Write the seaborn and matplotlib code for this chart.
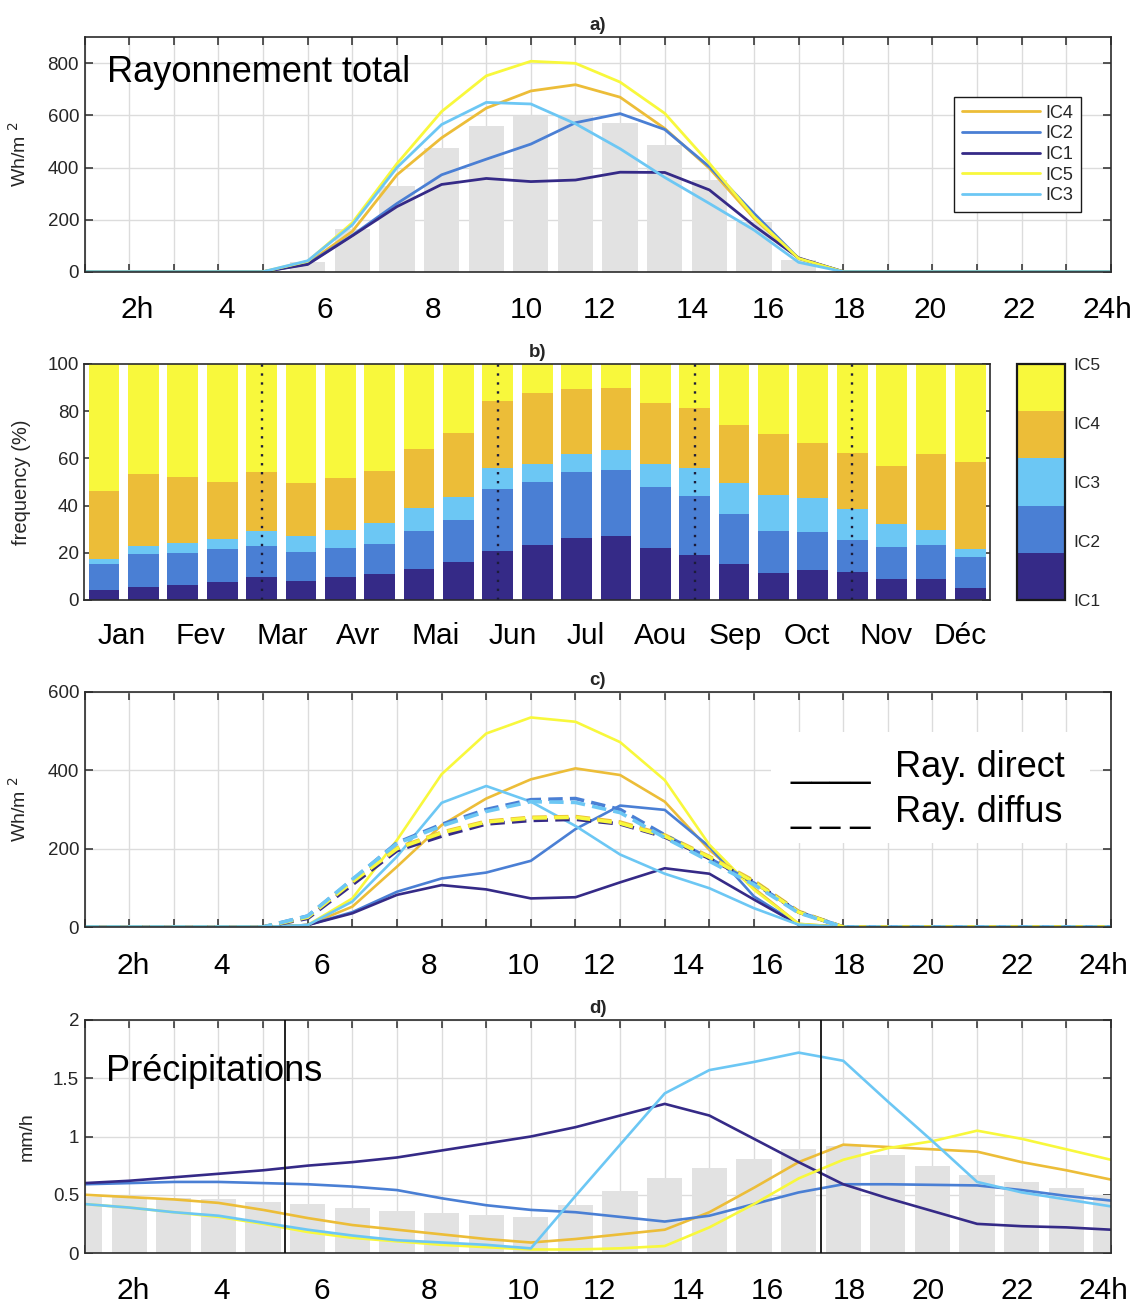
import numpy as np
import pandas as pd
import matplotlib
matplotlib.use("Agg")
import matplotlib.pyplot as plt
import matplotlib.transforms as mtransforms
from matplotlib.colors import ListedColormap, Normalize
from matplotlib.patches import Rectangle
import seaborn as sns

# ---------------- data ----------------
hours = list(range(1, 25))
hour_labels = ["2h", "4", "6", "8", "10", "12", "14", "16", "18", "20", "22", "24h"]
classes = ["IC4", "IC2", "IC1", "IC5", "IC3"]          # legend / drawing order
stack_classes = ["IC1", "IC2", "IC3", "IC4", "IC5"]
class_colors = {"IC1": "#352a87", "IC2": "#4a7fd4", "IC3": "#6cc7f4",
                "IC4": "#ecbd38", "IC5": "#f8f83c"}

# a) total radiation (Wh/m2), hours 1..24
a_mean = [0, 0, 0, 0, 0, 36, 165, 330, 475, 560, 597, 597, 570, 487, 352, 192, 45, 0, 0, 0, 0, 0, 0, 0]
a_IC1 = [0, 0, 0, 0, 0, 28, 138, 250, 335, 358, 346, 352, 382, 381, 314, 177, 53, 0, 0, 0, 0, 0, 0, 0]
a_IC2 = [0, 0, 0, 0, 0, 30, 140, 262, 372, 432, 490, 572, 607, 546, 403, 224, 51, 0, 0, 0, 0, 0, 0, 0]
a_IC3 = [0, 0, 0, 0, 0, 42, 180, 400, 565, 650, 644, 568, 472, 362, 262, 160, 36, 0, 0, 0, 0, 0, 0, 0]
a_IC4 = [0, 0, 0, 0, 0, 32, 155, 372, 514, 628, 694, 718, 670, 550, 397, 205, 51, 0, 0, 0, 0, 0, 0, 0]
a_IC5 = [0, 0, 0, 0, 0, 40, 188, 415, 615, 752, 808, 800, 728, 608, 416, 211, 51, 0, 0, 0, 0, 0, 0, 0]

# b) monthly frequency of each class (%), 23 periods
b_periods = list(range(1, 24))
month_labels = ["Jan", "Fev", "Mar", "Avr", "Mai", "Jun", "Jul", "Aou", "Sep", "Oct", "Nov", "Déc"]
b_IC1 = [4.2, 5.6, 6.5, 7.6, 9.9, 8.2, 9.7, 11.0, 13.3, 16.0, 20.9, 23.4, 26.3, 27.1, 21.9, 19.1, 15.3, 11.4, 12.9, 12.0, 9.0, 9.0, 5.2]
b_IC2 = [11.1, 14.0, 13.6, 13.9, 13.0, 12.3, 12.2, 12.9, 15.9, 17.9, 26.0, 26.5, 27.9, 28.0, 26.0, 25.0, 21.1, 17.7, 15.8, 13.4, 13.3, 14.4, 12.9]
b_IC3 = [2.1, 3.3, 4.2, 4.5, 6.3, 6.8, 7.8, 8.6, 9.6, 9.7, 9.2, 7.7, 7.8, 8.5, 9.9, 11.8, 13.3, 15.3, 14.4, 13.0, 9.8, 6.3, 3.4]
b_IC4 = [28.8, 30.6, 27.8, 24.1, 25.2, 22.4, 21.9, 22.2, 25.3, 27.3, 28.4, 30.0, 27.3, 26.4, 25.5, 25.3, 24.6, 25.8, 23.6, 23.7, 24.8, 32.0, 36.8]
b_IC5 = [53.8, 46.5, 47.9, 49.9, 45.6, 50.3, 48.4, 45.3, 35.9, 29.1, 15.5, 12.4, 10.7, 10.0, 16.7, 18.8, 25.7, 29.8, 33.3, 37.9, 43.1, 38.3, 41.7]
b_season_marks = [5, 11, 16, 20]

# c) direct (solid) and diffuse (dashed) radiation (Wh/m2)
c_dir_IC1 = [0, 0, 0, 0, 0, 5, 35, 82, 107, 96, 73, 76, 114, 150, 136, 70, 6, 0, 0, 0, 0, 0, 0, 0]
c_dir_IC2 = [0, 0, 0, 0, 0, 5, 38, 90, 124, 139, 169, 250, 310, 299, 205, 78, 6, 0, 0, 0, 0, 0, 0, 0]
c_dir_IC3 = [0, 0, 0, 0, 0, 5, 65, 180, 317, 360, 320, 258, 185, 136, 99, 48, 6, 0, 0, 0, 0, 0, 0, 0]
c_dir_IC4 = [0, 0, 0, 0, 0, 5, 52, 154, 260, 328, 377, 405, 388, 320, 197, 99, 8, 0, 0, 0, 0, 0, 0, 0]
c_dir_IC5 = [0, 0, 0, 0, 0, 5, 73, 222, 390, 494, 535, 524, 472, 375, 210, 95, 8, 0, 0, 0, 0, 0, 0, 0]
c_dif_IC1 = [0, 0, 0, 0, 0, 22, 108, 195, 232, 263, 272, 275, 263, 230, 175, 115, 38, 0, 0, 0, 0, 0, 0, 0]
c_dif_IC2 = [0, 0, 0, 0, 0, 28, 120, 215, 262, 300, 325, 328, 300, 235, 175, 112, 38, 0, 0, 0, 0, 0, 0, 0]
c_dif_IC3 = [0, 0, 0, 0, 0, 28, 122, 213, 258, 295, 320, 318, 292, 228, 168, 108, 36, 0, 0, 0, 0, 0, 0, 0]
c_dif_IC4 = [0, 0, 0, 0, 0, 25, 115, 202, 242, 270, 280, 282, 268, 235, 180, 118, 40, 0, 0, 0, 0, 0, 0, 0]
c_dif_IC5 = [0, 0, 0, 0, 0, 25, 115, 200, 240, 268, 278, 280, 265, 232, 178, 115, 38, 0, 0, 0, 0, 0, 0, 0]

# d) precipitation (mm/h)
d_mean = [0.48, 0.48, 0.47, 0.46, 0.44, 0.42, 0.39, 0.36, 0.34, 0.33, 0.31, 0.41, 0.53, 0.64, 0.73, 0.81, 0.89, 0.92, 0.84, 0.75, 0.67, 0.61, 0.56, 0.50]
d_IC1 = [0.60, 0.62, 0.65, 0.68, 0.71, 0.75, 0.78, 0.82, 0.88, 0.94, 1.00, 1.08, 1.18, 1.28, 1.18, 0.98, 0.78, 0.59, 0.47, 0.36, 0.25, 0.23, 0.22, 0.20]
d_IC2 = [0.59, 0.60, 0.61, 0.61, 0.60, 0.59, 0.57, 0.54, 0.47, 0.41, 0.37, 0.35, 0.31, 0.27, 0.32, 0.42, 0.52, 0.59, 0.59, 0.585, 0.58, 0.54, 0.49, 0.45]
d_IC3 = [0.42, 0.39, 0.35, 0.32, 0.26, 0.20, 0.15, 0.11, 0.09, 0.07, 0.04, 0.49, 0.93, 1.37, 1.57, 1.64, 1.72, 1.65, 1.30, 0.96, 0.61, 0.52, 0.46, 0.40]
d_IC4 = [0.50, 0.48, 0.46, 0.43, 0.37, 0.30, 0.24, 0.20, 0.16, 0.12, 0.09, 0.12, 0.16, 0.20, 0.35, 0.56, 0.78, 0.93, 0.91, 0.89, 0.87, 0.78, 0.71, 0.63]
d_IC5 = [0.42, 0.39, 0.35, 0.31, 0.25, 0.18, 0.13, 0.10, 0.07, 0.05, 0.03, 0.03, 0.04, 0.06, 0.22, 0.42, 0.64, 0.80, 0.90, 0.96, 1.05, 0.98, 0.89, 0.80]
d_day_marks = [5.5, 17.5]

# ---------------- layout (positions in px of the 1141x1309 image) ----------------
hour_label_pos_a = [2.17, 4.19, 6.39, 8.80, 10.89, 12.53, 14.61, 16.32, 18.13, 19.94, 21.94, 23.93]
hour_label_pos_cd = [2.09, 4.08, 6.31, 8.72, 10.84, 12.53, 14.52, 16.31, 18.13, 19.90, 21.89, 23.84]
month_label_pos = [1.46, 3.44, 5.52, 7.46, 9.43, 11.39, 13.24, 15.14, 17.02, 18.84, 20.86, 22.74]

sns.set_theme(style="ticks")
plt.rcParams["font.family"] = ["Liberation Sans", "DejaVu Sans"]
plt.rcParams["axes.unicode_minus"] = False

W, H = 1141, 1309
fig = plt.figure(figsize=(W / 100, H / 100), dpi=100)


def rect(l, t, r, b):
    return [l / W, 1 - b / H, (r - l) / W, (b - t) / H]


ax_a = fig.add_axes(rect(84.6, 37.3, 1111, 271.7))
ax_b = fig.add_axes(rect(84.4, 364, 990, 600))
ax_c = fig.add_axes(rect(84.6, 692, 1111, 927))
ax_d = fig.add_axes(rect(84.6, 1020, 1111, 1253))
cax = fig.add_axes(rect(1017, 364, 1065, 600))

GRID = "#dcdcdc"
SPINE = "#2b2b2b"
BAR_GRAY = "#e2e2e2"
TICK_FS = 13.5


def long_df(series):
    rows = []
    for name, vals in series.items():
        for h, v in zip(hours, vals):
            rows.append({"hour": h, "value": v, "classe": name})
    return pd.DataFrame(rows)


def style_hour_axes(ax, ymax, yticks, yticklabels, ylabel, label_x, label_pos, title):
    ax.set_xlim(1, 24)
    ax.set_ylim(0, ymax)
    ax.set_xticks(hours)
    ax.set_yticks(yticks)
    ax.set_yticklabels(yticklabels)
    ax.grid(True, color=GRID, lw=1)
    ax.set_axisbelow(True)
    ax.tick_params(axis="both", direction="in", length=6, width=1.1, top=True, right=True,
                   labelbottom=False, labelsize=TICK_FS, color=SPINE, labelcolor="#262626", pad=4)
    for s in ax.spines.values():
        s.set_visible(True)
        s.set_color(SPINE)
        s.set_linewidth(1.2)
    ax.set_xlabel("")
    ax.set_ylabel(ylabel, fontsize=14, color="#262626")
    ax.yaxis.set_label_coords(label_x, 0.5)
    ax.set_title(title, fontsize=13.5, fontweight="bold", pad=5)
    trans = mtransforms.blended_transform_factory(ax.transData, ax.transAxes)
    for p, lab in zip(label_pos, hour_labels):
        ax.text(p, -0.198, lab, transform=trans, ha="center", va="baseline",
                fontsize=21.5, color="black", clip_on=False)


# ---------------- a) ----------------
sns.barplot(x=hours, y=a_mean, native_scale=True, width=0.79, color=BAR_GRAY,
            saturation=1, errorbar=None, linewidth=0, ax=ax_a)
df_a = long_df({"IC1": a_IC1, "IC2": a_IC2, "IC3": a_IC3, "IC4": a_IC4, "IC5": a_IC5})
sns.lineplot(data=df_a, x="hour", y="value", hue="classe", hue_order=classes,
             palette=class_colors, lw=2.0, errorbar=None, legend=False, ax=ax_a)
style_hour_axes(ax_a, 900, [0, 200, 400, 600, 800], ["0", "200", "400", "600", "800"],
                "Wh/m $^{2}$", -0.053, hour_label_pos_a, "a)")
leg = ax_a.legend(ax_a.get_lines()[-5:], classes, loc="center right",
                  bbox_to_anchor=(0.98, 0.5), fontsize=13, handlelength=4.3,
                  handletextpad=0.3, labelspacing=0.2, borderpad=0.45,
                  frameon=True, fancybox=False, framealpha=1, edgecolor="#1a1a1a")
leg.get_frame().set_linewidth(1.0)

# ---------------- b) ----------------
b_stack = np.array([b_IC1, b_IC2, b_IC3, b_IC4, b_IC5])
b_cum = np.cumsum(b_stack, axis=0)
for i in range(4, -1, -1):
    sns.barplot(x=b_periods, y=b_cum[i], native_scale=True, width=0.78,
                color=class_colors[stack_classes[i]], saturation=1, errorbar=None,
                linewidth=0, ax=ax_b)
for xm in b_season_marks:
    ax_b.axvline(xm, color="#1c1c3a", lw=1.7, ls=(0, (1, 2.8)), zorder=3)
ax_b.set_xlim(0.5, 23.5)
ax_b.set_ylim(0, 100)
ax_b.set_xticks(b_periods)
ax_b.set_yticks([0, 20, 40, 60, 80, 100])
ax_b.grid(False)
ax_b.tick_params(axis="both", direction="in", length=6, width=1.1, top=True, right=True,
                 labelbottom=False, labelsize=TICK_FS, color=SPINE, labelcolor="#262626", pad=4)
for s in ax_b.spines.values():
    s.set_visible(True)
    s.set_color(SPINE)
    s.set_linewidth(1.2)
ax_b.set_xlabel("")
ax_b.set_ylabel("frequency (%)", fontsize=14.5, color="#262626")
ax_b.yaxis.set_label_coords(-0.059, 0.5)
ax_b.set_title("b)", fontsize=13.5, fontweight="bold", pad=5)
trans_b = mtransforms.blended_transform_factory(ax_b.transData, ax_b.transAxes)
for p, lab in zip(month_label_pos, month_labels):
    ax_b.text(p, -0.186, lab, transform=trans_b, ha="center", va="baseline",
              fontsize=21.5, color="black", clip_on=False)

cmap = ListedColormap([class_colors[c] for c in stack_classes])
cb = fig.colorbar(plt.cm.ScalarMappable(norm=Normalize(1, 5), cmap=cmap), cax=cax,
                  ticks=[1, 2, 3, 4, 5])
cb.set_ticklabels(stack_classes)
cax.tick_params(length=0, labelsize=12.5, pad=6, labelcolor="#262626")
cb.outline.set_linewidth(1.6)
cb.outline.set_edgecolor("#1a1a1a")

# ---------------- c) ----------------
df_c_dir = long_df({"IC1": c_dir_IC1, "IC2": c_dir_IC2, "IC3": c_dir_IC3, "IC4": c_dir_IC4, "IC5": c_dir_IC5})
df_c_dif = long_df({"IC1": c_dif_IC1, "IC2": c_dif_IC2, "IC3": c_dif_IC3, "IC4": c_dif_IC4, "IC5": c_dif_IC5})
sns.lineplot(data=df_c_dir, x="hour", y="value", hue="classe", hue_order=classes,
             palette=class_colors, lw=1.9, errorbar=None, legend=False, ax=ax_c)
sns.lineplot(data=df_c_dif, x="hour", y="value", hue="classe", hue_order=classes,
             palette=class_colors, lw=2.6, linestyle=(0, (4, 2)), errorbar=None,
             legend=False, ax=ax_c)
style_hour_axes(ax_c, 600, [0, 200, 400, 600], ["0", "200", "400", "600"],
                "Wh/m $^{2}$", -0.053, hour_label_pos_cd, "c)")
ax_c.add_patch(Rectangle((0.669, 0.357), 0.311, 0.473, transform=ax_c.transAxes,
                         facecolor="white", edgecolor="none", zorder=1.5))
fig.text(790 / W, 1 - 777 / H, "____", fontsize=26, color="black", va="baseline")
fig.text(790 / W, 1 - 822 / H, "_ _ _", fontsize=26, color="black", va="baseline")
fig.text(895 / W, 1 - 777 / H, "Ray. direct", fontsize=26, color="black", va="baseline")
fig.text(895 / W, 1 - 822 / H, "Ray. diffus", fontsize=26, color="black", va="baseline")

# ---------------- d) ----------------
sns.barplot(x=hours, y=d_mean, native_scale=True, width=0.79, color=BAR_GRAY,
            saturation=1, errorbar=None, linewidth=0, ax=ax_d)
df_d = long_df({"IC1": d_IC1, "IC2": d_IC2, "IC3": d_IC3, "IC4": d_IC4, "IC5": d_IC5})
sns.lineplot(data=df_d, x="hour", y="value", hue="classe", hue_order=classes,
             palette=class_colors, lw=1.9, errorbar=None, legend=False, ax=ax_d)
for xm in d_day_marks:
    ax_d.axvline(xm, color="#111111", lw=1.3, zorder=3)
style_hour_axes(ax_d, 2, [0, 0.5, 1, 1.5, 2], ["0", "0.5", "1", "1.5", "2"],
                "mm/h", -0.048, hour_label_pos_cd, "d)")

# big overlay titles
fig.text(107 / W, 1 - 81.7 / H, "Rayonnement total", fontsize=26, color="black", va="baseline")
fig.text(106 / W, 1 - 1081 / H, "Précipitations", fontsize=26, color="black", va="baseline")

fig.savefig("out.png", dpi=100, facecolor="white")
